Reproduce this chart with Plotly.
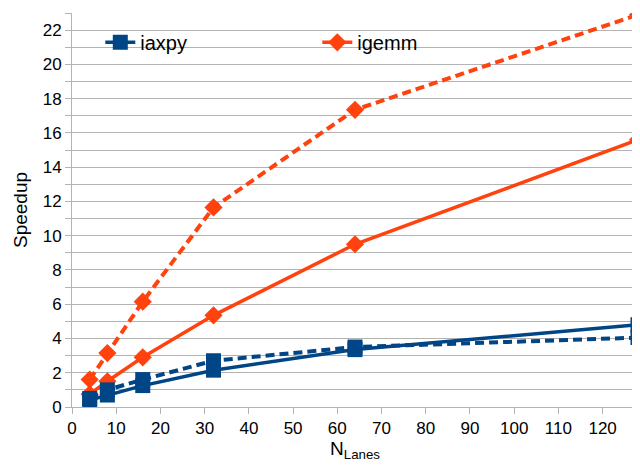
import plotly.graph_objects as go

lanes = [4, 8, 16, 32, 64, 128]
iaxpy_solid = [0.4, 0.7, 1.25, 2.15, 3.35, 4.8]
iaxpy_dashed = [0.5, 1.0, 1.6, 2.7, 3.5, 4.05]
igemm_solid = [0.75, 1.5, 2.9, 5.35, 9.5, 15.6]
igemm_dashed = [1.6, 3.15, 6.15, 11.65, 17.35, 22.9]

BLUE = "#004586"
ORANGE = "#ff420e"
FONT = "Liberation Sans"
DASH = "9px,5px"

fig = go.Figure()
fig.add_trace(go.Scatter(x=lanes, y=igemm_dashed, mode="lines+markers", showlegend=False,
                         line=dict(color=ORANGE, width=4, dash=DASH),
                         marker=dict(symbol="diamond", size=14, color=ORANGE)))
fig.add_trace(go.Scatter(x=lanes, y=igemm_solid, mode="lines+markers", name="igemm",
                         line=dict(color=ORANGE, width=3.5),
                         marker=dict(symbol="diamond", size=14, color=ORANGE)))
fig.add_trace(go.Scatter(x=lanes, y=iaxpy_dashed, mode="lines+markers", showlegend=False,
                         line=dict(color=BLUE, width=4, dash=DASH),
                         marker=dict(symbol="square", size=15, color=BLUE)))
fig.add_trace(go.Scatter(x=lanes, y=iaxpy_solid, mode="lines+markers", name="iaxpy",
                         line=dict(color=BLUE, width=3.5),
                         marker=dict(symbol="square", size=15, color=BLUE)))

fig.update_layout(
    width=632, height=461,
    margin=dict(l=64, r=2, t=5, b=62, autoexpand=False),
    paper_bgcolor="white", plot_bgcolor="white",
    font=dict(family=FONT, size=17, color="black"),
    legend=dict(orientation="h", x=0.05, y=0.975, xanchor="left", yanchor="top",
                traceorder="reversed", entrywidth=172, entrywidthmode="pixels",
                bgcolor="rgba(0,0,0,0)", font=dict(size=20)),
    xaxis=dict(range=[0, 128], dtick=10, tick0=0, showgrid=False, zeroline=False,
               automargin=False,
               ticks="outside", ticklen=6, tickcolor="#b3b3b3",
               showline=True, linecolor="#b3b3b3", linewidth=1, mirror=False,
               title=dict(text="N<sub>Lanes</sub>", standoff=4, font=dict(size=19))),
    yaxis=dict(range=[0, 23], dtick=2, tick0=0, showgrid=True, gridcolor="#b3b3b3",
               zeroline=False, automargin=False,
               ticks="outside", ticklen=6, tickcolor="#b3b3b3",
               showline=True, linecolor="#b3b3b3", linewidth=1, mirror=True,
               minor=dict(dtick=1, showgrid=True, gridcolor="#b3b3b3",
                          ticks="outside", ticklen=6, tickcolor="#b3b3b3"),
               title=dict(text="Speedup", standoff=10, font=dict(size=19))),
)

fig.write_html("out.html")
